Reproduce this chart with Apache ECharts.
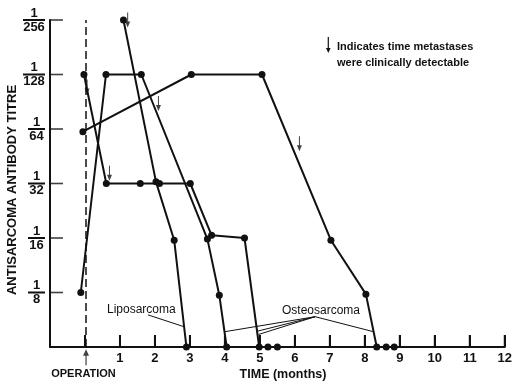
<!DOCTYPE html>
<html><head><meta charset="utf-8">
<script src="https://cdn.jsdelivr.net/npm/echarts@6/dist/echarts.min.js"></script>
<style>html,body{margin:0;padding:0;background:#fff}#c{width:515px;height:382px}</style>
</head><body><div id="c"></div>
<script>
// Titre steps: 0 = undetectable (on axis), 1 = 1/8, 2 = 1/16, ... 6 = 1/256
const titreTicks = ['', '8', '16', '32', '64', '128', '256'];
const titreTickSteps = [1, 2, 3, 4, 5, 6];
const monthTicks = [1, 2, 3, 4, 5, 6, 7, 8, 9, 10, 11, 12];

const lipoMonths = [1.1, 2.03, 2.55, 2.9];
const lipoTitre  = [6, 3.03, 1.96, 0];

const osteo1Months = [-0.03, 0.61, 1.58, 2.13, 3.01, 3.62, 4.56, 4.98, 5.23, 5.5];
const osteo1Titre  = [5, 3, 3, 3, 3, 2.05, 2, 0, 0, 0];

const osteo2Months = [-0.12, 0.6, 1.61, 3.5, 3.84, 4.05];
const osteo2Titre  = [1, 5, 5, 1.98, 0.95, 0];

const osteo3Months = [-0.06, 3.04, 5.06, 7.03, 8.03, 8.34, 8.61, 8.84];
const osteo3Titre  = [3.95, 5, 5, 1.96, 0.97, 0, 0, 0];

// metastasis detection arrows
const metMonths = [1.22, 0.06, 0.7, 2.1, 6.13];
const metTitre  = [6.0, 4.77, 3.19, 4.47, 3.73];

const operationMonth = 0.03;

// annotation leader lines (data space)
const lipoLeaders = [[[1.8, 0.59], [2.84, 0.37]]];
const osteoApex = [6.58, 0.556];
const osteoTargets = [[3.99, 0.28], [4.93, 0.29], [4.96, 0.23], [8.25, 0.28]];

const INK = '#111';
const FONT = '"Liberation Sans", Arial, sans-serif';
const zip = (xs, ys) => xs.map((x, i) => [x, ys[i]]);

function dataLine(xs, ys, extra) {
  return Object.assign({
    type: 'line', data: zip(xs, ys), symbol: 'circle', symbolSize: 7, clip: false,
    lineStyle: { color: INK, width: 2 }, itemStyle: { color: INK }, z: 3, silent: true
  }, extra || {});
}
function segment(a, b, w) {
  return { type: 'line', data: [a, b], symbol: 'none', clip: false, silent: true,
    lineStyle: { color: INK, width: w || 1 }, z: 2 };
}

const series = [
  dataLine(lipoMonths, lipoTitre, {
    markLine: { silent: true, symbol: 'none', label: { show: false },
      lineStyle: { color: INK, width: 1.5, type: [8, 4] },
      data: [{ xAxis: operationMonth }] }
  }),
  dataLine(osteo1Months, osteo1Titre),
  dataLine(osteo2Months, osteo2Titre),
  dataLine(osteo3Months, osteo3Titre),
  {
    type: 'scatter', data: zip(metMonths, metTitre), clip: false, silent: true,
    symbol: 'path://M4,0 L6,0 L6,12 L10,12 L5,20 L0,12 L4,12 Z', symbolSize: [5, 15],
    itemStyle: { color: INK }, z: 4
  },
  {
    type: 'scatter', data: [[operationMonth, -0.19]], clip: false, silent: true,
    symbol: 'path://M5,0 L10,8 L6,8 L6,20 L4,20 L4,8 L0,8 Z', symbolSize: [6, 16],
    itemStyle: { color: INK }, z: 4
  },
  // inward tick marks on the titre axis
  {
    type: 'scatter', data: titreTickSteps.map(s => [-1, s]), clip: false, silent: true,
    symbol: 'rect', symbolSize: [13, 1.6], symbolOffset: [6.5, 0],
    itemStyle: { color: INK }, z: 1
  }
];
lipoLeaders.forEach(l => series.push(segment(l[0], l[1])));
osteoTargets.forEach(t => series.push(segment(osteoApex, t)));

const rich = {};
[['w', 22], ['s', 17]].forEach(([k, w]) => {
  rich['n' + k] = { width: w, align: 'center', fontSize: 13, fontWeight: 'bold', lineHeight: 12, fontFamily: FONT, color: INK };
  rich['d' + k] = { width: w, align: 'center', fontSize: 13, fontWeight: 'bold', lineHeight: 12, fontFamily: FONT, color: INK };
  rich['b' + k] = { width: w, height: 2, lineHeight: 2, fontSize: 2, backgroundColor: INK };
});

const staticGraphics = [
  { type: 'text', x: 12, y: 190, rotation: Math.PI / 2, silent: true,
    style: { text: 'ANTISARCOMA ANTIBODY TITRE', font: 'bold 13px ' + FONT, fill: INK, textAlign: 'center', textVerticalAlign: 'middle' } },
  { type: 'text', x: 283, y: 375, silent: true,
    style: { text: 'TIME (months)', font: 'bold 12.5px ' + FONT, fill: INK, textAlign: 'center', textVerticalAlign: 'middle' } },
  { type: 'text', x: 83.5, y: 373.5, silent: true,
    style: { text: 'OPERATION', font: 'bold 11px ' + FONT, fill: INK, textAlign: 'center', textVerticalAlign: 'middle' } },
  { type: 'text', x: 107, y: 310, silent: true,
    style: { text: 'Liposarcoma', font: '12px ' + FONT, fill: INK, textAlign: 'left', textVerticalAlign: 'middle' } },
  { type: 'text', x: 282, y: 310.5, silent: true,
    style: { text: 'Osteosarcoma', font: '12px ' + FONT, fill: INK, textAlign: 'left', textVerticalAlign: 'middle' } },
  { type: 'text', x: 337, y: 46.5, silent: true,
    style: { text: 'Indicates time metastases', font: 'bold 11px ' + FONT, fill: INK, textAlign: 'left', textVerticalAlign: 'middle' } },
  { type: 'text', x: 337, y: 63.3, silent: true,
    style: { text: 'were clinically detectable', font: 'bold 11px ' + FONT, fill: INK, textAlign: 'left', textVerticalAlign: 'middle' } },
  { type: 'line', silent: true, shape: { x1: 328.3, y1: 37, x2: 328.3, y2: 49 }, style: { stroke: INK, lineWidth: 1.2 } },
  { type: 'polygon', silent: true, shape: { points: [[326, 48], [330.6, 48], [328.3, 53]] }, style: { fill: INK } }
];

const chart = echarts.init(document.getElementById('c'), null, { renderer: 'canvas' });
chart.setOption({
  animation: false,
  backgroundColor: '#fff',
  grid: { left: 50, right: 2, top: 20, bottom: 35 },
  xAxis: {
    type: 'value', min: -1, max: 12, interval: 1,
    axisLine: { onZero: false, lineStyle: { color: INK, width: 2 } },
    axisTick: { show: true, inside: true, length: 12, lineStyle: { color: INK, width: 2 } },
    axisLabel: { fontSize: 13, fontWeight: 'bold', fontFamily: FONT, color: INK, margin: 5,
      formatter: v => (monthTicks.indexOf(v) >= 0 ? String(v) : '') },
    splitLine: { show: false }
  },
  yAxis: {
    type: 'value', min: 0, max: 6, interval: 1,
    axisLine: { onZero: false, lineStyle: { color: INK, width: 2 } },
    axisTick: { show: false },
    axisLabel: {
      margin: 5, rich: rich,
      formatter: v => {
        const t = titreTicks[v];
        if (!t) return '';
        const k = t.length > 2 ? 'w' : 's';
        return '{n' + k + '|1}\n{b' + k + '| }\n{d' + k + '|' + t + '}';
      }
    },
    splitLine: { show: false }
  },
  series: series,
  graphic: staticGraphics
});

// time-axis tick marks positioned through the chart's own scale
const tickGraphics = monthTicks.map(m => {
  const p = chart.convertToPixel({ gridIndex: 0 }, [m, 0]);
  return { type: 'rect', silent: true, z: 100,
    shape: { x: p[0] - 1, y: p[1] - 12, width: 2, height: 12 }, style: { fill: INK } };
});
chart.setOption({ graphic: staticGraphics.concat(tickGraphics) });
</script></body></html>
